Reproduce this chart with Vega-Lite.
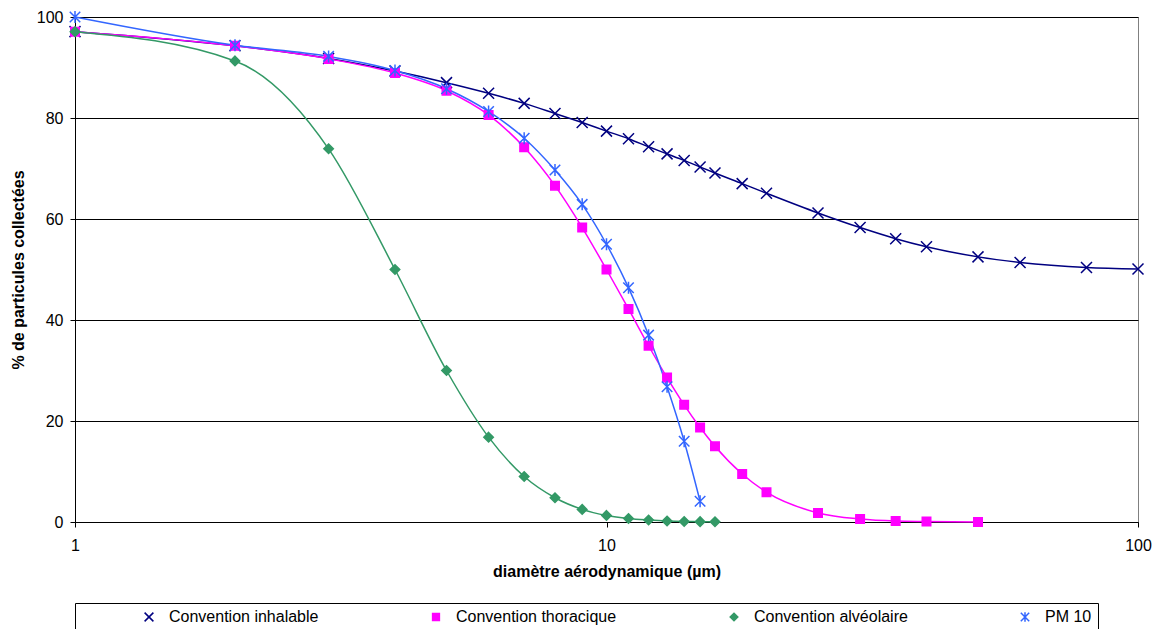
{
  "$schema": "https://vega.github.io/schema/vega-lite/v6.json",
  "width": 1063,
  "height": 505,
  "autosize": {"type": "none"},
  "padding": {"left": 75, "top": 17, "right": 17, "bottom": 107},
  "background": "white",
  "config": {
    "view": {"stroke": "#808080", "strokeWidth": 1},
    "font": "Liberation Sans",
    "axis": {"labelFont": "Liberation Sans", "titleFont": "Liberation Sans", "labelFontSize": 16, "titleFontSize": 16, "labelColor": "black", "titleColor": "black", "titleFontWeight": "bold", "domainColor": "black", "tickColor": "black", "tickSize": 5}
  },
  "data": {"values": [
    {"s": "Convention inhalable", "d": 1, "p": 97.1},
    {"s": "Convention inhalable", "d": 2, "p": 94.3},
    {"s": "Convention inhalable", "d": 3, "p": 91.8},
    {"s": "Convention inhalable", "d": 4, "p": 89.3},
    {"s": "Convention inhalable", "d": 5, "p": 87.0},
    {"s": "Convention inhalable", "d": 6, "p": 84.9},
    {"s": "Convention inhalable", "d": 7, "p": 82.9},
    {"s": "Convention inhalable", "d": 8, "p": 80.9},
    {"s": "Convention inhalable", "d": 9, "p": 79.1},
    {"s": "Convention inhalable", "d": 10, "p": 77.4},
    {"s": "Convention inhalable", "d": 11, "p": 75.9},
    {"s": "Convention inhalable", "d": 12, "p": 74.3},
    {"s": "Convention inhalable", "d": 13, "p": 72.9},
    {"s": "Convention inhalable", "d": 14, "p": 71.6},
    {"s": "Convention inhalable", "d": 15, "p": 70.3},
    {"s": "Convention inhalable", "d": 16, "p": 69.1},
    {"s": "Convention inhalable", "d": 18, "p": 67.0},
    {"s": "Convention inhalable", "d": 20, "p": 65.1},
    {"s": "Convention inhalable", "d": 25, "p": 61.2},
    {"s": "Convention inhalable", "d": 30, "p": 58.3},
    {"s": "Convention inhalable", "d": 35, "p": 56.1},
    {"s": "Convention inhalable", "d": 40, "p": 54.5},
    {"s": "Convention inhalable", "d": 50, "p": 52.5},
    {"s": "Convention inhalable", "d": 60, "p": 51.4},
    {"s": "Convention inhalable", "d": 80, "p": 50.4},
    {"s": "Convention inhalable", "d": 100, "p": 50.1},
    {"s": "Convention thoracique", "d": 1, "p": 97.1},
    {"s": "Convention thoracique", "d": 2, "p": 94.3},
    {"s": "Convention thoracique", "d": 3, "p": 91.7},
    {"s": "Convention thoracique", "d": 4, "p": 88.9},
    {"s": "Convention thoracique", "d": 5, "p": 85.4},
    {"s": "Convention thoracique", "d": 6, "p": 80.6},
    {"s": "Convention thoracique", "d": 7, "p": 74.2},
    {"s": "Convention thoracique", "d": 8, "p": 66.6},
    {"s": "Convention thoracique", "d": 9, "p": 58.3},
    {"s": "Convention thoracique", "d": 10, "p": 50.0},
    {"s": "Convention thoracique", "d": 11, "p": 42.2},
    {"s": "Convention thoracique", "d": 12, "p": 34.9},
    {"s": "Convention thoracique", "d": 13, "p": 28.6},
    {"s": "Convention thoracique", "d": 14, "p": 23.2},
    {"s": "Convention thoracique", "d": 15, "p": 18.7},
    {"s": "Convention thoracique", "d": 16, "p": 15.0},
    {"s": "Convention thoracique", "d": 18, "p": 9.5},
    {"s": "Convention thoracique", "d": 20, "p": 5.9},
    {"s": "Convention thoracique", "d": 25, "p": 1.8},
    {"s": "Convention thoracique", "d": 30, "p": 0.6},
    {"s": "Convention thoracique", "d": 35, "p": 0.2},
    {"s": "Convention thoracique", "d": 40, "p": 0.1},
    {"s": "Convention thoracique", "d": 50, "p": 0.0},
    {"s": "Convention alvéolaire", "d": 1, "p": 97.1},
    {"s": "Convention alvéolaire", "d": 2, "p": 91.3},
    {"s": "Convention alvéolaire", "d": 3, "p": 73.9},
    {"s": "Convention alvéolaire", "d": 4, "p": 50.0},
    {"s": "Convention alvéolaire", "d": 5, "p": 30.0},
    {"s": "Convention alvéolaire", "d": 6, "p": 16.8},
    {"s": "Convention alvéolaire", "d": 7, "p": 9.0},
    {"s": "Convention alvéolaire", "d": 8, "p": 4.8},
    {"s": "Convention alvéolaire", "d": 9, "p": 2.5},
    {"s": "Convention alvéolaire", "d": 10, "p": 1.3},
    {"s": "Convention alvéolaire", "d": 11, "p": 0.7},
    {"s": "Convention alvéolaire", "d": 12, "p": 0.4},
    {"s": "Convention alvéolaire", "d": 13, "p": 0.2},
    {"s": "Convention alvéolaire", "d": 14, "p": 0.1},
    {"s": "Convention alvéolaire", "d": 15, "p": 0.07},
    {"s": "Convention alvéolaire", "d": 16, "p": 0.04},
    {"s": "PM 10", "d": 1, "p": 100},
    {"s": "PM 10", "d": 2, "p": 94.4},
    {"s": "PM 10", "d": 3, "p": 92.2},
    {"s": "PM 10", "d": 4, "p": 89.4},
    {"s": "PM 10", "d": 5, "p": 85.8},
    {"s": "PM 10", "d": 6, "p": 81.3},
    {"s": "PM 10", "d": 7, "p": 76.0},
    {"s": "PM 10", "d": 8, "p": 69.7},
    {"s": "PM 10", "d": 9, "p": 62.9},
    {"s": "PM 10", "d": 10, "p": 55.0},
    {"s": "PM 10", "d": 11, "p": 46.4},
    {"s": "PM 10", "d": 12, "p": 37.0},
    {"s": "PM 10", "d": 13, "p": 26.8},
    {"s": "PM 10", "d": 14, "p": 16.0},
    {"s": "PM 10", "d": 15, "p": 4.1}
  ]},
  "encoding": {
    "x": {"field": "d", "type": "quantitative", "scale": {"type": "log", "domain": [1, 100], "nice": false},
      "axis": {"values": [1, 10, 100], "format": "d", "grid": false, "title": "diamètre aérodynamique (µm)", "labelPadding": 10, "titlePadding": 10, "labelFlush": false}},
    "y": {"field": "p", "type": "quantitative", "scale": {"domain": [0, 100], "nice": false},
      "axis": {"values": [0, 20, 40, 60, 80, 100], "grid": true, "gridColor": "black", "gridOpacity": 1, "title": "% de particules collectées", "labelPadding": 7, "titlePadding": 10}}
  },
  "layer": [
    {
      "mark": {"type": "line", "interpolate": "monotone", "strokeWidth": 1.5},
      "encoding": {
        "color": {"field": "s", "type": "nominal",
          "scale": {"domain": ["Convention inhalable", "Convention thoracique", "Convention alvéolaire", "PM 10"], "range": ["#000080", "#FF00FF", "#339966", "#3366FF"]},
          "legend": {
            "title": null, "orient": "bottom", "direction": "horizontal", "columns": 4, "offset": 24,
            "strokeColor": "black", "padding": 6,
            "symbolSize": 64, "symbolOffset": 60, "labelOffset": 12, "columnPadding": 49,
            "labelFont": "Liberation Sans", "labelFontSize": 16, "labelColor": "black", "labelLimit": 400,
            "encode": {"symbols": {"update": {
              "shape": {"signal": "datum.value === 'Convention inhalable' ? 'M-5,-0.08L5,-0.08L5,0.08L-5,0.08ZM-1.2,-1.2L1.2,1.2M-1.2,1.2L1.2,-1.2' : datum.value === 'Convention thoracique' ? 'M-5,-0.08L5,-0.08L5,0.08L-5,0.08ZM-0.85,-0.85L0.85,-0.85L0.85,0.85L-0.85,0.85Z' : datum.value === 'Convention alvéolaire' ? 'M-5,-0.08L5,-0.08L5,0.08L-5,0.08ZM0,-1.1L1.1,0L0,1.1L-1.1,0Z' : 'M-5,-0.08L5,-0.08L5,0.08L-5,0.08ZM-1.1,-1.1L1.1,1.1M-1.1,1.1L1.1,-1.1M0,-1.3L0,1.3'"},
              "fill": {"signal": "datum.value === 'Convention inhalable' ? '#000080' : datum.value === 'Convention thoracique' ? '#FF00FF' : datum.value === 'Convention alvéolaire' ? '#339966' : '#3366FF'"},
              "strokeWidth": {"value": 1.5}
            }}}
          }}
      }
    },
    {
      "mark": {"type": "point", "filled": true, "size": 100, "strokeWidth": 1.5, "opacity": 1},
      "encoding": {
        "fill": {"field": "s", "type": "nominal", "legend": null,
          "scale": {"domain": ["Convention inhalable", "Convention thoracique", "Convention alvéolaire", "PM 10"], "range": ["#000080", "#FF00FF", "#339966", "#3366FF"]}},
        "stroke": {"field": "s", "type": "nominal", "legend": null,
          "scale": {"domain": ["Convention inhalable", "Convention thoracique", "Convention alvéolaire", "PM 10"], "range": ["#000080", "#FF00FF", "#339966", "#3366FF"]}},
        "shape": {"field": "s", "type": "nominal", "legend": null,
          "scale": {"domain": ["Convention inhalable", "Convention thoracique", "Convention alvéolaire", "PM 10"],
            "range": ["M-1.1,-1.1L1.1,1.1M-1.1,1.1L1.1,-1.1", "M-0.85,-0.85L0.85,-0.85L0.85,0.85L-0.85,0.85Z", "M0,-0.95L0.95,0L0,0.95L-0.95,0Z", "M-1.05,-1.05L1.05,1.05M-1.05,1.05L1.05,-1.05M0,-1.2L0,1.2"]}}
      }
    }
  ]
}
